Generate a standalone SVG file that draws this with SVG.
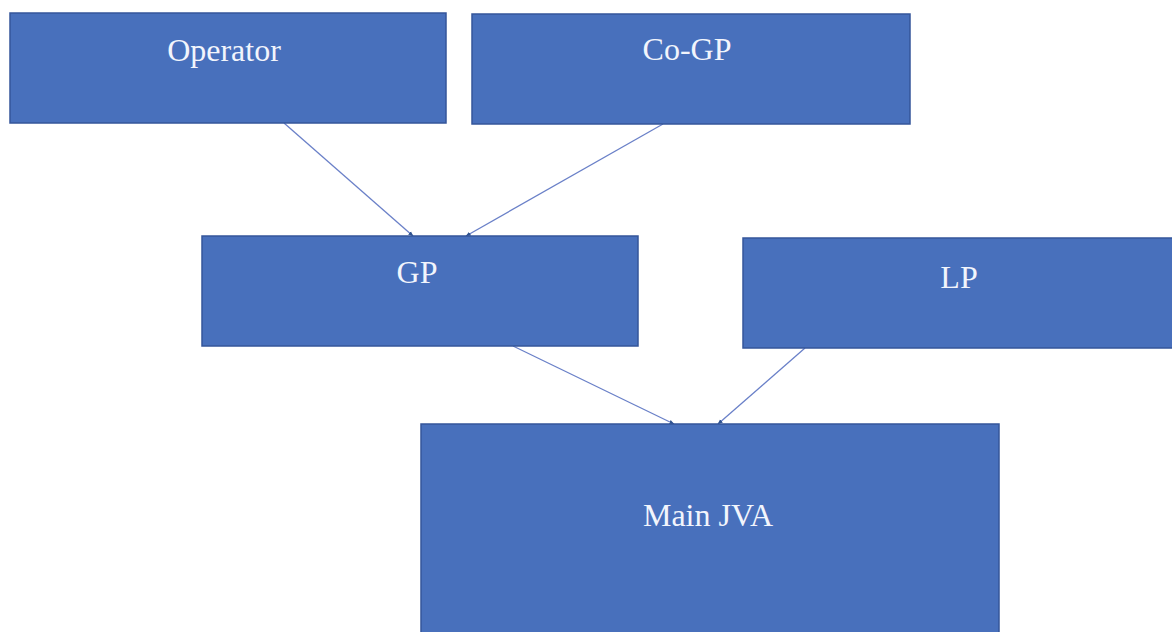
<svg xmlns="http://www.w3.org/2000/svg" width="1172" height="632" viewBox="0 0 1172 632">
<style>
.box{fill:#4870BC;stroke:#35569A;stroke-width:1.5}
.lbl{font-family:"Liberation Serif","Times New Roman",serif;font-size:32px;fill:#F2F5FC;text-anchor:middle}
.conn{stroke:#6A80C8;stroke-width:1.3;fill:none;marker-end:url(#ah)}
</style>
<defs>
<marker id="ah" viewBox="0 0 10 10" refX="9" refY="5" markerWidth="4" markerHeight="4" orient="auto">
<path d="M0,1 L10,5 L0,9 z" fill="#2F528F"/>
</marker>
</defs>
<rect width="1172" height="632" fill="#ffffff"/>
<g id="connectors">
<line class="conn" x1="284" y1="123" x2="413" y2="236"/>
<line class="conn" x1="663" y1="124" x2="466" y2="236"/>
<line class="conn" x1="513" y1="346" x2="674" y2="424"/>
<line class="conn" x1="805" y1="348" x2="718" y2="424"/>
</g>
<g id="operator">
<rect class="box" x="10" y="13" width="436" height="110"/>
<text class="lbl" x="224" y="61">Operator</text>
</g>
<g id="cogp">
<rect class="box" x="472" y="14" width="438" height="110"/>
<text class="lbl" x="687" y="60">Co-GP</text>
</g>
<g id="gp">
<rect class="box" x="202" y="236" width="436" height="110"/>
<text class="lbl" x="417" y="283">GP</text>
</g>
<g id="lp">
<rect class="box" x="743" y="238" width="432" height="110"/>
<text class="lbl" x="959" y="288">LP</text>
</g>
<g id="mainjva">
<rect class="box" x="421" y="424" width="578" height="212"/>
<text class="lbl" x="708" y="526">Main JVA</text>
</g>
</svg>
